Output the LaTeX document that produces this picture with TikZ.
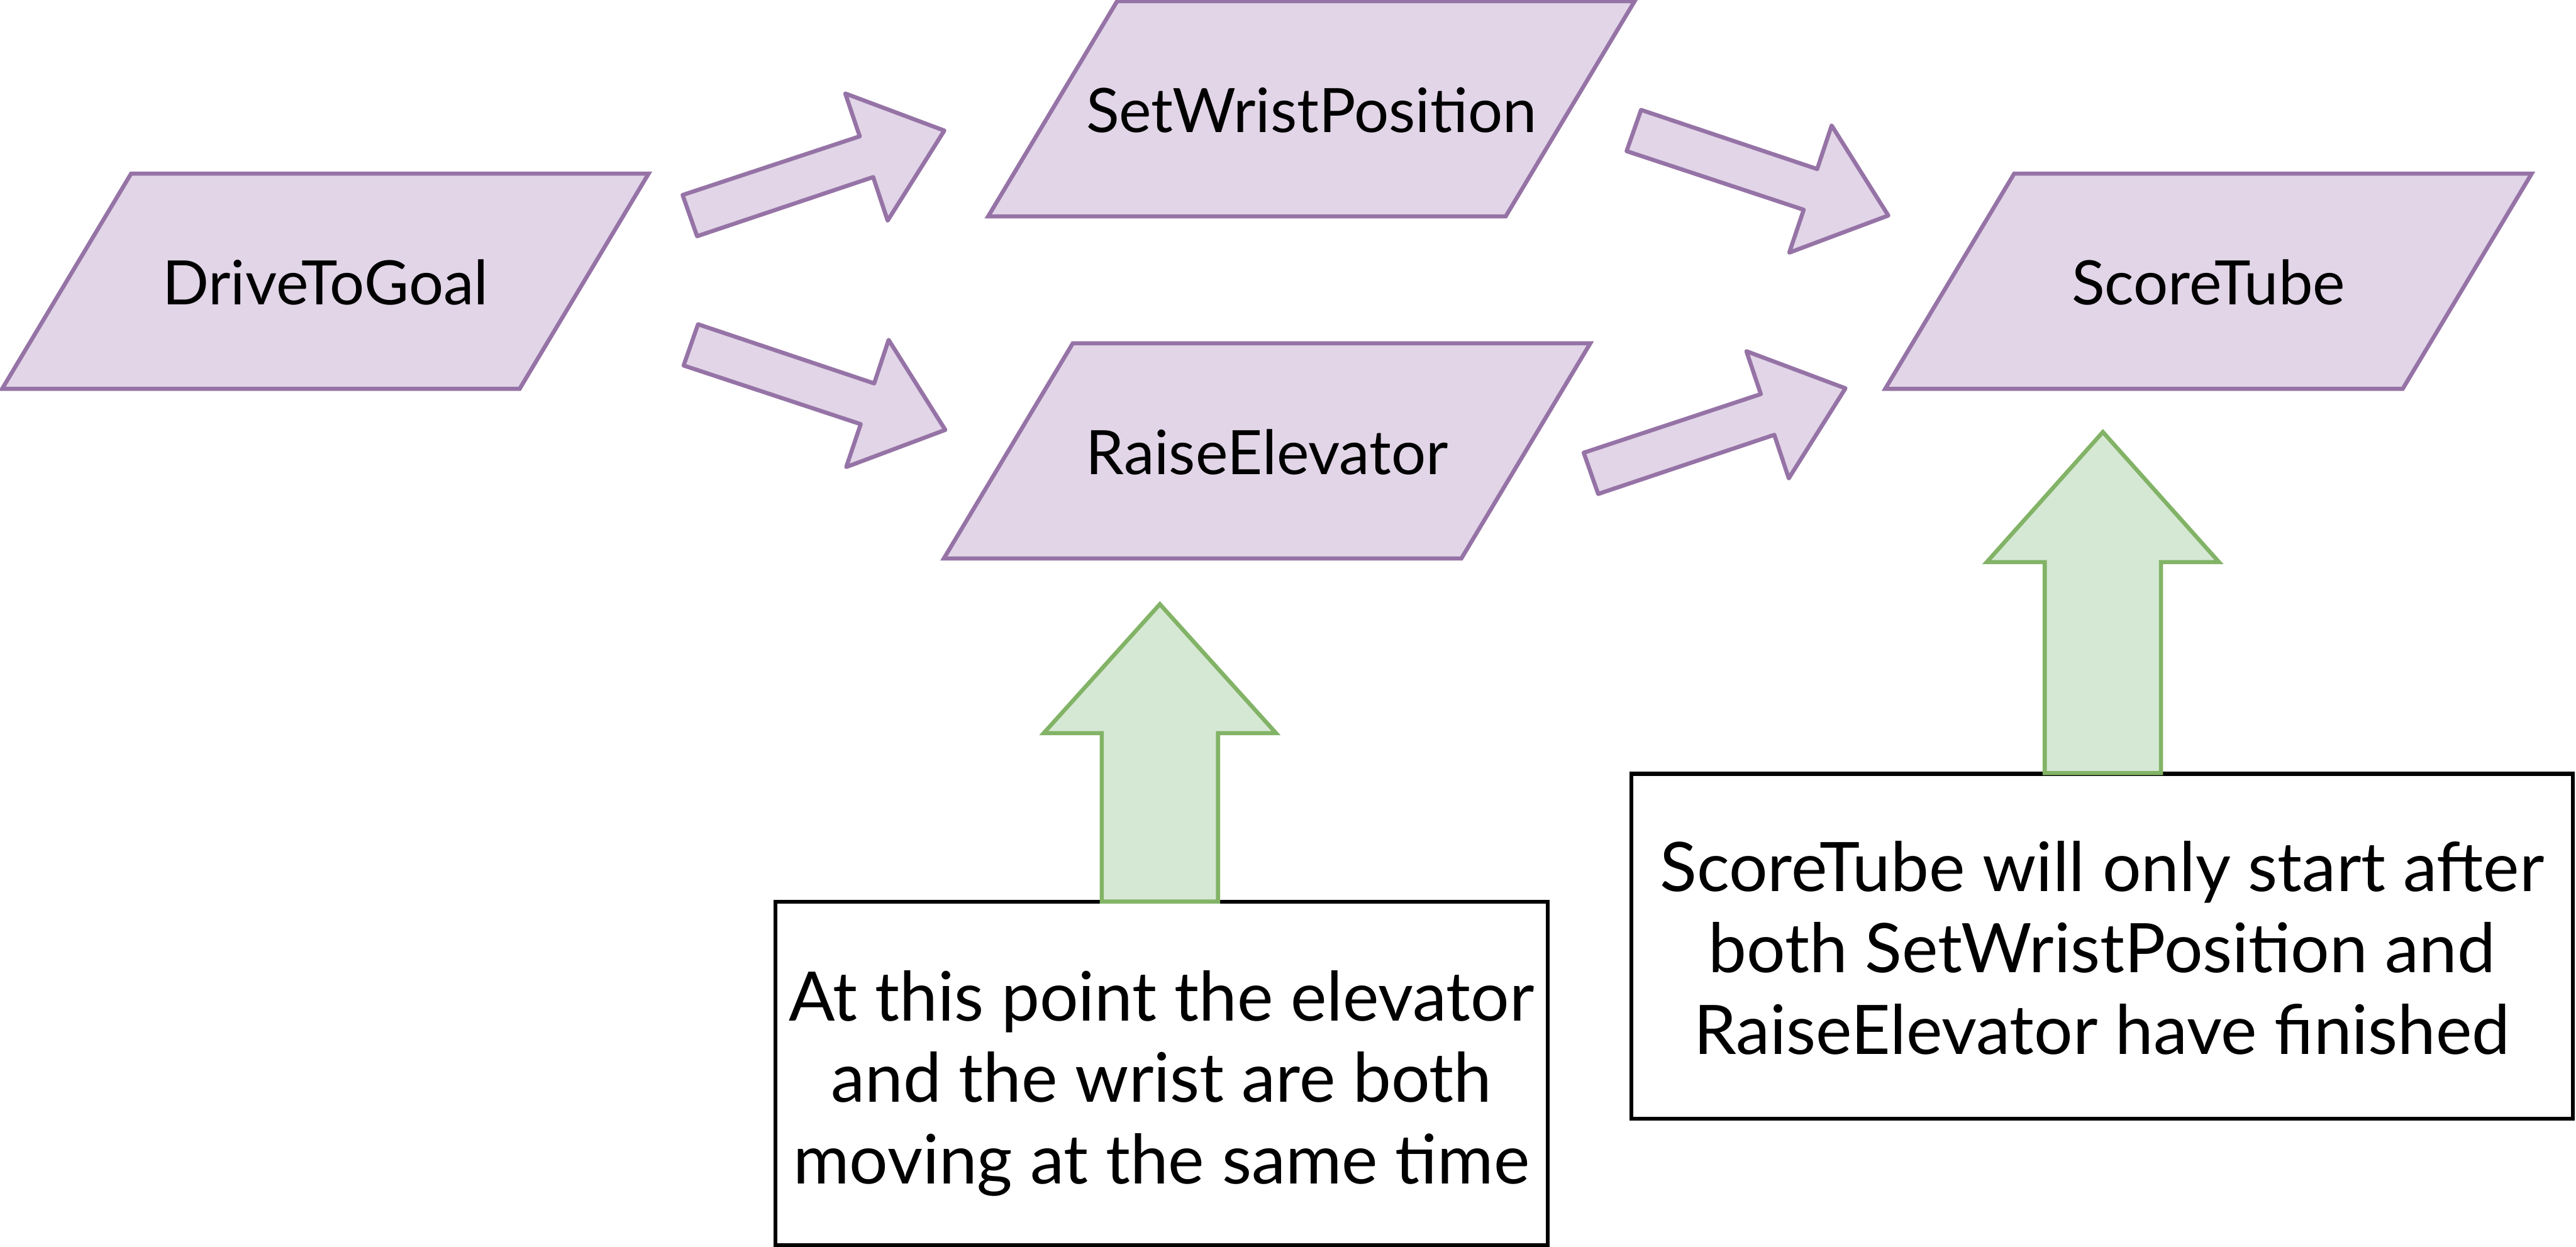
\documentclass[tikz,border=0pt]{standalone}
\usepackage{fontspec}
\setmainfont{Lato}
\definecolor{pfill}{HTML}{E1D5E7}
\definecolor{pline}{HTML}{9673A6}
\definecolor{gfill}{HTML}{D5E8D4}
\definecolor{gline}{HTML}{82B366}
\tikzset{
  pgramshape/.style={fill=pfill,draw=pline,line width=2.5pt,line join=miter},
  parrow/.style={fill=pfill,draw=pline,line width=2.5pt,line join=round},
  garrow/.style={fill=gfill,draw=gline,line width=2.5pt,line join=miter},
  notebox/.style={draw=black,line width=2.4pt,inner sep=0pt,fill=white},
  boxlabel/.style={inner sep=0pt,anchor=base,font=\fontsize{37.3}{44}\selectfont},
  notetext/.style={inner sep=0pt,align=center,font=\fontsize{41.6}{49.7}\selectfont}
}
% parallelogram: bottom-left x, bottom y, name, text
\newcommand\pgram[4]{%
  \draw[pgramshape] (#1,#2) -- ++(315,0) -- ++(78.5,-131) -- ++(-315,0) -- cycle;
  \node[boxlabel] (#3) at ({#1+196.75},{#2-51.1}) {#4};}
% block arrow pointing up-right, tip at (#1,#2)
\newcommand\arrowupright[2]{%
  \draw[parrow,shift={(#1,#2)}] (-159.3,39.2) -- (-150.5,64.3) -- (-43.3,28.3) -- (-34.5,54.8) -- (0,0) -- (-60.3,-22.6) -- (-51.5,3.5) -- cycle;}
% block arrow pointing down-right, tip at (#1,#2)
\newcommand\arrowdownright[2]{%
  \draw[parrow,shift={(#1,#2)}] (-150.5,-64.3) -- (-159.3,-39.2) -- (-51.5,-3.5) -- (-60.3,22.6) -- (0,0) -- (-34.5,-54.8) -- (-43.3,-28.3) -- cycle;}
% up arrow: centre x, tip y, barb y, bottom y
\newcommand\uparrowshape[4]{%
  \draw[garrow] (#1,#2) -- ({#1+70.7},#3) -- ({#1+35.4},#3) -- ({#1+35.4},#4) -- ({#1-35.4},#4) -- ({#1-35.4},#3) -- ({#1-70.7},#3) -- cycle;}
\begin{document}
\begin{tikzpicture}[x=1pt,y=-1pt]
\useasboundingbox (0,0) rectangle (1568,759);
% process boxes
\pgram{1.3}{236.7}{drive}{DriveToGoal}
\pgram{601.5}{131.7}{wrist}{SetWristPosition}
\pgram{574.5}{340}{elev}{RaiseElevator}
\pgram{1147.5}{236.7}{score}{ScoreTube}
% flow arrows
\arrowupright{574.8}{79.5}
\arrowdownright{575.4}{261.7}
\arrowdownright{1149.4}{131.2}
\arrowupright{1123.3}{236.4}
% notes
\node[notebox,minimum width=470pt,minimum height=209pt] (note1) at (707,653.5) {};
\node[notetext] (note1text) at (707,659.5) {At this point the elevator\\and the wrist are both\\moving at the same time};
\node[notebox,minimum width=573pt,minimum height=210pt] (note2) at (1279.5,576) {};
\node[notetext] (note2text) at (1279.5,577) {ScoreTube will only start after\\both SetWristPosition and\\RaiseElevator have finished};
% pointer arrows
\uparrowshape{706}{367.8}{446.3}{548.8}
\uparrowshape{1280}{263}{342.2}{470.6}
\end{tikzpicture}
\end{document}
